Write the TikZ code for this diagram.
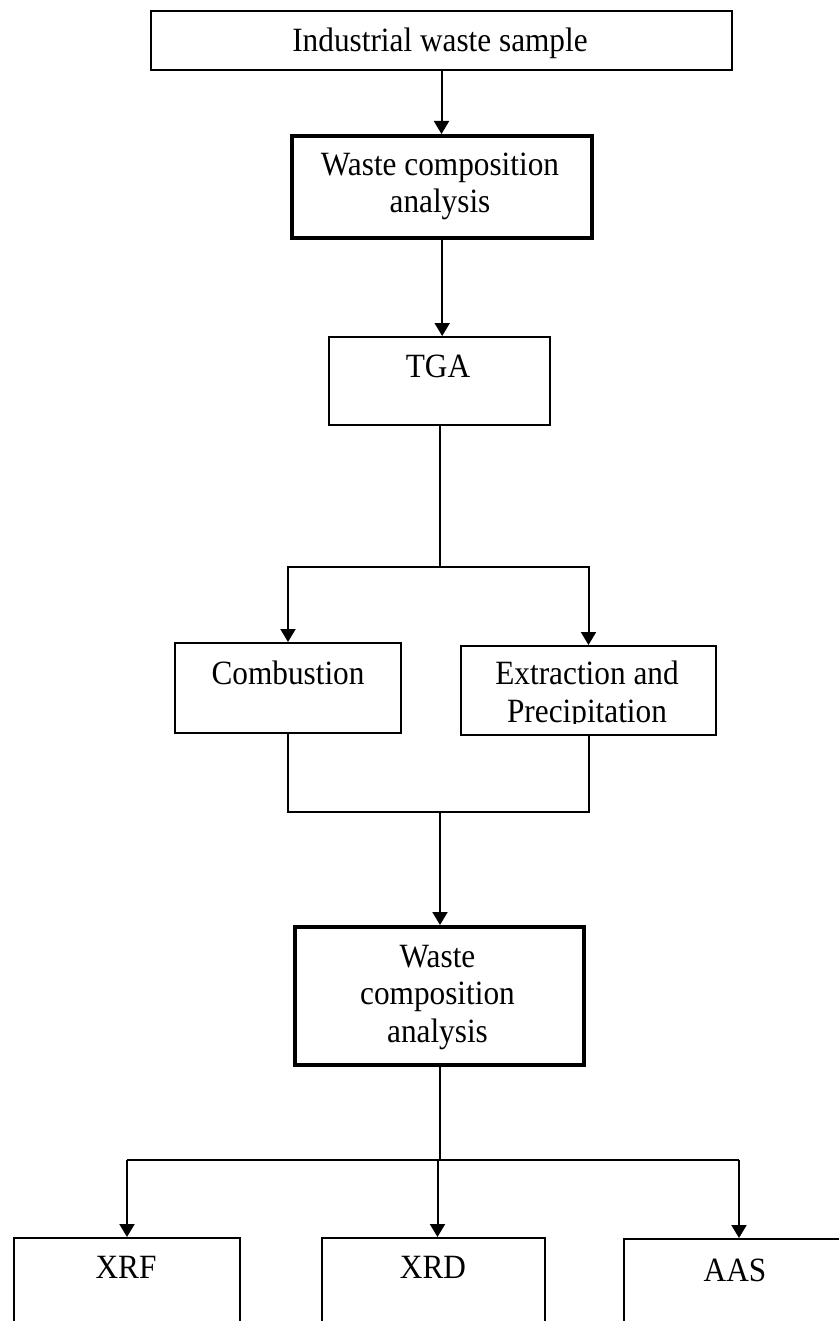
\documentclass[tikz,border=0pt]{standalone}
\usepackage{fontspec}
\setmainfont[FakeStretch=0.92]{Liberation Serif}
\usetikzlibrary{arrows.meta}
\begin{document}
\begin{tikzpicture}[x=0.5pt,y=-0.5pt,
  thinbox/.style={draw, line width=1pt, inner sep=0pt, anchor=north west},
  thickbox/.style={draw, line width=2.2pt, inner sep=0pt, anchor=north west},
  txt/.style={font=\fontsize{17}{18.75}\selectfont, inner sep=0pt, align=center, anchor=base},
  link/.style={line width=1pt},
  arr/.style={link, -{Triangle[length=6.5pt,width=7.5pt]}}]
\useasboundingbox (0,0) rectangle (839,1321);
\clip (0,0) rectangle (839,1321);
\fill[white] (0,0) rectangle (839,1321);

% boxes
\node[thinbox, minimum width=290.5pt, minimum height=29.5pt] (sample) at (150,10) {};
\node[thickbox, minimum width=150pt, minimum height=51pt] (box1) at (290,134) {};
\node[thinbox, minimum width=110.5pt, minimum height=44pt] (tga) at (328,336) {};
\node[thinbox, minimum width=113pt, minimum height=45pt] (comb) at (174,642) {};
\node[thinbox, minimum width=127.5pt, minimum height=44.5pt] (ext) at (460,645) {};
\node[thickbox, minimum width=144.5pt, minimum height=69pt] (box2) at (293,925) {};
\node[thinbox, minimum width=113pt, minimum height=70pt] (xrf) at (13,1237) {};
\node[thinbox, minimum width=111.5pt, minimum height=70pt] (xrd) at (321,1237) {};
\node[thinbox, minimum width=115pt, minimum height=70pt] (aas) at (623,1238) {};

% texts (anchor base = baseline of the last line)
\node[txt] (sampleT) at (440,52) {Industrial waste sample};
\node[txt] (box1T) at (440,213) {Waste composition\\analysis};
\node[txt] (tgaT) at (438,377) {TGA};
\node[txt] (combT) at (288,684) {Combustion};
\begin{scope}
  \clip (460,645) rectangle (715,723);
  \node[txt] (extT) at (587,722) {Extraction and\\Precipitation};
\end{scope}
\node[txt] (box2T) at (437.5,1042) {Waste\\composition\\analysis};
\node[txt] (xrfT) at (126,1278) {XRF};
\node[txt] (xrdT) at (433,1278) {XRD};
\node[txt] (aasT) at (735,1281) {AAS};

% connectors
\draw[arr] (sample.south) -- (sample.south |- box1.north);
\draw[arr] (box1.south) -- (box1.south |- tga.north);
\coordinate (j1) at (439,567);
\draw[link] (tga.south) -- (tga.south |- j1);
\draw[arr] (j1) -| (comb.north);
\draw[arr] (j1) -| (ext.north);
\coordinate (j2) at (440,812);
\draw[link] (comb.south) |- (ext.south |- j2) -- (ext.south);
\draw[arr] (j2) -- (j2 |- box2.north);
\coordinate (j3) at (437.5,1160);
\draw[link] (box2.south) -- (box2.south |- j3);
\draw[link] (xrf.north |- j3) -- (aas.north |- j3);
\draw[arr] (xrf.north |- j3) -- (xrf.north);
\draw[arr] (j3) -- (j3 |- xrd.north);
\draw[arr] (aas.north |- j3) -- (aas.north);
\end{tikzpicture}
\end{document}
